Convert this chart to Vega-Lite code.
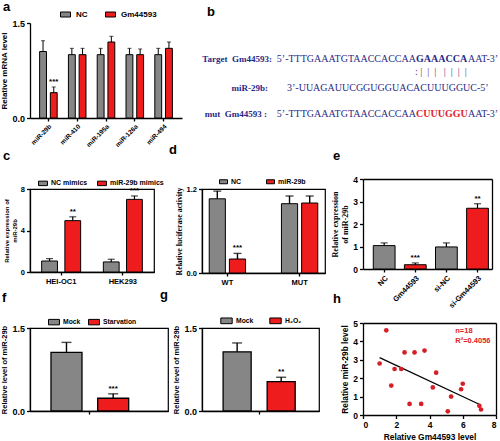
{
  "$schema": "https://vega.github.io/schema/vega-lite/v6.json",
  "padding": {"left": 0, "top": 1, "right": 0, "bottom": 0},
  "columns": 5,
  "align": "each",
  "bounds": "flush",
  "spacing": {"row": 0, "column": 0},
  "resolve": {"scale": {"color": "independent", "x": "independent", "y": "independent", "xOffset": "independent"}, "legend": {"color": "independent"}},
  "config": {
    "view": {"stroke": null},
    "font": "Liberation Sans",
    "axis": {"domainColor": "#000", "domainWidth": 1.3, "tickColor": "#000", "tickWidth": 1.3, "tickSize": 3.5, "labelColor": "#000", "titleColor": "#000", "labelFont": "Liberation Sans", "labelFontWeight": "bold", "titleFont": "Liberation Sans", "titleFontWeight": "bold", "grid": false, "labelPadding": 2, "titlePadding": 3, "labelFontSize": 8, "titleFontSize": 7.5},
    "legend": {"labelFont": "Liberation Sans", "labelFontWeight": "bold", "labelColor": "#000", "symbolStrokeColor": "#000", "symbolStrokeWidth": 1, "symbolType": "M-1,-0.5L1,-0.5L1,0.5L-1,0.5Z", "padding": 0, "labelLimit": 200},
    "title": {"font": "Liberation Sans", "fontWeight": "bold", "fontSize": 13, "anchor": "start", "frame": "group", "color": "#000", "offset": 0},
    "bar": {"stroke": "#000", "strokeWidth": 1},
    "text": {"color": "#000"}
  },
  "concat": [
    {
      "width": 152, "height": 95,
      "title": {"text": "a", "dx": -27, "dy": 9},
      "data": {"values": [
        {"gene": "miR-29b", "group": "NC", "value": 1.05, "hi": 1.22, "sig": ""},
        {"gene": "miR-29b", "group": "Gm44593", "value": 0.4, "hi": 0.49, "sig": "***"},
        {"gene": "miR-410", "group": "NC", "value": 1.0, "hi": 1.1, "sig": ""},
        {"gene": "miR-410", "group": "Gm44593", "value": 1.0, "hi": 1.1, "sig": ""},
        {"gene": "miR-195a", "group": "NC", "value": 1.0, "hi": 1.1, "sig": ""},
        {"gene": "miR-195a", "group": "Gm44593", "value": 1.2, "hi": 1.29, "sig": ""},
        {"gene": "miR-126a", "group": "NC", "value": 1.0, "hi": 1.1, "sig": ""},
        {"gene": "miR-126a", "group": "Gm44593", "value": 1.0, "hi": 1.09, "sig": ""},
        {"gene": "miR-494", "group": "NC", "value": 1.0, "hi": 1.1, "sig": ""},
        {"gene": "miR-494", "group": "Gm44593", "value": 1.1, "hi": 1.2, "sig": ""}
      ]},
      "encoding": {
        "x": {"field": "gene", "type": "nominal", "sort": null, "scale": {"paddingInner": 0.39, "paddingOuter": 0.334}, "axis": {"title": null, "labelAngle": -45, "labelFontSize": 6.5, "tickSize": 3}},
        "xOffset": {"field": "group", "type": "nominal", "sort": ["NC", "Gm44593"], "scale": {"paddingInner": 0.36}}
      },
      "layer": [
        {"mark": {"type": "bar"}, "encoding": {
          "y": {"field": "value", "type": "quantitative", "title": "Relative mRNA level", "scale": {"domain": [0, 1.5], "nice": false}, "axis": {"titleFontSize": 8, "labelFontSize": 9, "values": [0, 0.5, 1, 1.5], "format": ".1f"}},
          "color": {"field": "group", "type": "nominal", "sort": ["NC", "Gm44593"], "scale": {"domain": ["NC", "Gm44593"], "range": ["#868686", "#ee1c1c"]}, "legend": {"title": null, "orient": "none", "legendX": 30, "legendY": -14, "direction": "horizontal", "labelFontSize": 8, "labelOffset": 5, "columnPadding": 15, "symbolSize": 100}}
        }},
        {"mark": {"type": "rule", "color": "#000", "strokeWidth": 1}, "encoding": {"y": {"field": "value", "type": "quantitative", "title": "Relative mRNA level"}, "y2": {"field": "hi"}}},
        {"mark": {"type": "tick", "color": "#000", "thickness": 1, "size": 4}, "encoding": {"y": {"field": "hi", "type": "quantitative", "title": "Relative mRNA level"}}},
        {"mark": {"type": "text", "baseline": "bottom", "dy": -1, "fontWeight": "bold", "fontSize": 8}, "encoding": {"y": {"field": "hi", "type": "quantitative", "title": "Relative mRNA level"}, "text": {"field": "sig"}}}
      ]
    },
    {"width": 20, "height": 1, "mark": "point", "data": {"values": []}},
    {
      "width": 123, "height": 95,
      "title": {"text": "b", "dx": 5},
      "data": {"values": [
        {"line": "Target", "part": "label", "text": "Target\u00a0 Gm44593:", "pos": 72, "row": 36},
        {"line": "Target", "part": "head", "text": "5\u2019-TTTGAAATGTAACCACCAA", "pos": 216, "row": 36},
        {"line": "Target", "part": "motif", "text": "GAAACCA", "pos": 216, "row": 36},
        {"line": "Target", "part": "tail", "text": "AAT-3\u2019", "pos": 268, "row": 36},
        {"line": "pair", "part": "pair", "text": ":\u00a0|\u00a0\u00a0|\u00a0\u00a0|\u00a0\u00a0\u00a0|\u00a0\u00a0|\u00a0\u00a0|\u00a0\u00a0|", "pos": 215, "row": 48.5},
        {"line": "miR", "part": "label", "text": "miR-29b:", "pos": 68, "row": 65},
        {"line": "miR", "part": "seq", "text": "3\u2019-UUAGAUUCGGUGGUACACUUUGGUC-5\u2019", "pos": 87, "row": 65},
        {"line": "mut", "part": "label", "text": "mut\u00a0 Gm44593 :", "pos": 67, "row": 91},
        {"line": "mut", "part": "head", "text": "5\u2019-TTTGAAATGTAACCACCAA", "pos": 216, "row": 91},
        {"line": "mut", "part": "motif", "text": "CUUUGGU", "pos": 216, "row": 91},
        {"line": "mut", "part": "tail", "text": "AAT-3\u2019", "pos": 268, "row": 91}
      ]},
      "encoding": {
        "x": {"field": "pos", "type": "quantitative", "scale": {"domain": [2, 125], "nice": false, "zero": false}, "axis": null},
        "y": {"field": "row", "type": "quantitative", "scale": {"domain": [0, 95], "nice": false, "reverse": true}, "axis": null},
        "text": {"field": "text"}
      },
      "layer": [
        {"transform": [{"filter": "datum.part === 'label'"}], "mark": {"type": "text", "align": "right", "baseline": "middle", "font": "Liberation Serif", "fontWeight": "bold", "fontSize": 9, "color": "#2a2a86"}},
        {"transform": [{"filter": "datum.part === 'head'"}], "mark": {"type": "text", "align": "right", "baseline": "middle", "font": "Liberation Serif", "fontSize": 10, "color": "#2a2a86"}},
        {"transform": [{"filter": "datum.part === 'seq' || datum.part === 'tail'"}], "mark": {"type": "text", "align": "left", "baseline": "middle", "font": "Liberation Serif", "fontSize": 10, "color": "#2a2a86"}},
        {"transform": [{"filter": "datum.part === 'motif'"}], "mark": {"type": "text", "align": "left", "baseline": "middle", "font": "Liberation Serif", "fontWeight": "bold", "fontSize": 10}, "encoding": {"color": {"field": "line", "type": "nominal", "scale": {"domain": ["Target", "mut"], "range": ["#2a2a86", "#e3242b"]}, "legend": null}}},
        {"transform": [{"filter": "datum.part === 'pair'"}], "mark": {"type": "text", "align": "left", "baseline": "middle", "font": "Liberation Serif", "fontSize": 10, "color": "#56347a"}}
      ]
    },
    {"width": 38, "height": 1, "mark": "point", "data": {"values": []}},
    {"width": 1, "height": 1, "mark": "point", "data": {"values": []}},

    {"width": 1, "height": 71, "mark": "point", "data": {"values": []}},
    {"width": 1, "height": 1, "mark": "point", "data": {"values": []}},
    {"width": 1, "height": 1, "mark": "point", "data": {"values": []}},
    {"width": 1, "height": 1, "mark": "point", "data": {"values": []}},
    {"width": 1, "height": 1, "mark": "point", "data": {"values": []}},

    {
      "width": 124, "height": 83,
      "title": {"text": "c", "dx": -27, "dy": -11},
      "view": {"stroke": "#000", "strokeWidth": 1.2},
      "data": {"values": [
        {"cell": "HEI-OC1", "group": "NC mimics", "value": 1.06, "hi": 1.29, "sig": ""},
        {"cell": "HEI-OC1", "group": "miR-29b mimics", "value": 4.95, "hi": 5.32, "sig": "**"},
        {"cell": "HEK293", "group": "NC mimics", "value": 0.97, "hi": 1.23, "sig": ""},
        {"cell": "HEK293", "group": "miR-29b mimics", "value": 7.0, "hi": 7.33, "sig": "***"}
      ]},
      "encoding": {
        "x": {"field": "cell", "type": "nominal", "sort": null, "scale": {"paddingInner": 0.368, "paddingOuter": 0.189}, "axis": {"title": null, "labelAngle": 0, "labelFontSize": 7.5, "tickSize": 3}},
        "xOffset": {"field": "group", "type": "nominal", "sort": ["NC mimics", "miR-29b mimics"], "scale": {"paddingInner": 0.32}}
      },
      "layer": [
        {"mark": {"type": "bar"}, "encoding": {
          "y": {"field": "value", "type": "quantitative", "title": ["Relative expression of", "miR-29b"], "scale": {"domain": [0, 8], "nice": false}, "axis": {"titleFontSize": 6, "titleLineHeight": 8, "labelFontSize": 7.5, "values": [0, 2, 4, 6, 8], "format": "d"}},
          "color": {"field": "group", "type": "nominal", "sort": ["NC mimics", "miR-29b mimics"], "scale": {"domain": ["NC mimics", "miR-29b mimics"], "range": ["#868686", "#ee1c1c"]}, "legend": {"title": null, "orient": "none", "legendX": 8, "legendY": -11, "direction": "horizontal", "labelFontSize": 7, "labelOffset": 3, "columnPadding": 7, "symbolSize": 80}}
        }},
        {"mark": {"type": "rule", "color": "#000", "strokeWidth": 1.2}, "encoding": {"y": {"field": "value", "type": "quantitative", "title": ["Relative expression of", "miR-29b"]}, "y2": {"field": "hi"}}},
        {"mark": {"type": "tick", "color": "#000", "thickness": 1.2, "size": 7}, "encoding": {"y": {"field": "hi", "type": "quantitative", "title": ["Relative expression of", "miR-29b"]}}},
        {"mark": {"type": "text", "baseline": "bottom", "dy": -1, "fontWeight": "bold", "fontSize": 8}, "encoding": {"y": {"field": "hi", "type": "quantitative", "title": ["Relative expression of", "miR-29b"]}, "text": {"field": "sig"}}}
      ]
    },
    {"width": 1, "height": 1, "mark": "point", "data": {"values": []}},
    {
      "width": 123, "height": 84,
      "title": {"text": "d", "dx": -33, "dy": -16},
      "view": {"stroke": "#000", "strokeWidth": 1.2},
      "data": {"values": [
        {"site": "WT", "group": "NC", "value": 1.06, "hi": 1.17, "sig": ""},
        {"site": "WT", "group": "miR-29b", "value": 0.2, "hi": 0.28, "sig": "***"},
        {"site": "MUT", "group": "NC", "value": 0.99, "hi": 1.1, "sig": ""},
        {"site": "MUT", "group": "miR-29b", "value": 1.0, "hi": 1.1, "sig": ""}
      ]},
      "encoding": {
        "x": {"field": "site", "type": "nominal", "sort": null, "scale": {"paddingInner": 0.497, "paddingOuter": 0.1}, "axis": {"title": null, "labelAngle": 0, "labelFontSize": 7.5, "tickSize": 3}},
        "xOffset": {"field": "group", "type": "nominal", "sort": ["NC", "miR-29b"], "scale": {"paddingInner": 0.2}}
      },
      "layer": [
        {"mark": {"type": "bar"}, "encoding": {
          "y": {"field": "value", "type": "quantitative", "title": "Relative luciferase activity", "scale": {"domain": [0, 1.2], "nice": false}, "axis": {"titleFont": "Liberation Serif", "titleFontSize": 7.8, "labelFontSize": 7.5, "values": [0, 0.2, 0.4, 0.6, 0.8, 1.0, 1.2], "format": ".1f"}},
          "color": {"field": "group", "type": "nominal", "sort": ["NC", "miR-29b"], "scale": {"domain": ["NC", "miR-29b"], "range": ["#868686", "#ee1c1c"]}, "legend": {"title": null, "orient": "none", "legendX": 17, "legendY": -12, "direction": "horizontal", "labelFontSize": 7, "labelOffset": 3, "columnPadding": 22, "symbolSize": 64}}
        }},
        {"mark": {"type": "rule", "color": "#000", "strokeWidth": 1.4}, "encoding": {"y": {"field": "value", "type": "quantitative", "title": "Relative luciferase activity"}, "y2": {"field": "hi"}}},
        {"mark": {"type": "tick", "color": "#000", "thickness": 1.4, "size": 8}, "encoding": {"y": {"field": "hi", "type": "quantitative", "title": "Relative luciferase activity"}}},
        {"mark": {"type": "text", "baseline": "bottom", "dy": -1, "fontWeight": "bold", "fontSize": 8}, "encoding": {"y": {"field": "hi", "type": "quantitative", "title": "Relative luciferase activity"}, "text": {"field": "sig"}}}
      ]
    },
    {"width": 1, "height": 1, "mark": "point", "data": {"values": []}},
    {
      "width": 129, "height": 80,
      "title": {"text": "e", "dx": -30, "dy": -8},
      "resolve": {"axis": {"x": "independent", "y": "independent"}},
      "data": {"values": [
        {"sample": "NC", "value": 1.04, "hi": 1.16, "sig": ""},
        {"sample": "Gm44593", "value": 0.19, "hi": 0.27, "sig": "***"},
        {"sample": "si-NC", "value": 0.98, "hi": 1.16, "sig": ""},
        {"sample": "si-Gm44593", "value": 2.7, "hi": 2.9, "sig": "**"}
      ]},
      "layer": [
        {"mark": {"type": "bar"}, "encoding": {
          "x": {"field": "sample", "type": "nominal", "sort": null, "scale": {"paddingInner": 0.3, "paddingOuter": 0.2235, "align": 0.74}, "axis": {"title": null, "labelAngle": -45, "labelFontSize": 7.5, "tickSize": 3}},
          "y": {"field": "value", "type": "quantitative", "title": ["Relative expression", "of miR-29b"], "scale": {"domain": [0, 4], "nice": false, "range": [80, -10]}, "axis": {"titleFont": "Liberation Serif", "titleFontSize": 8, "titleLineHeight": 10, "labelFontSize": 8.5, "values": [0, 1, 2, 3, 4], "format": "d"}},
          "color": {"field": "sample", "type": "nominal", "scale": {"domain": ["NC", "Gm44593", "si-NC", "si-Gm44593"], "range": ["#868686", "#ee1c1c", "#868686", "#ee1c1c"]}, "legend": null}
        }},
        {"mark": {"type": "rule", "color": "#000", "strokeWidth": 1.2}, "encoding": {
          "x": {"field": "sample", "type": "nominal", "sort": null, "axis": {"orient": "top", "offset": 10, "labels": false, "ticks": false, "title": null}},
          "y": {"field": "value", "type": "quantitative", "axis": {"orient": "right", "labels": false, "ticks": false, "title": null}},
          "y2": {"field": "hi"}}},
        {"mark": {"type": "tick", "color": "#000", "thickness": 1.2, "size": 7}, "encoding": {
          "x": {"field": "sample", "type": "nominal", "sort": null, "axis": null},
          "y": {"field": "hi", "type": "quantitative", "axis": null}}},
        {"mark": {"type": "text", "baseline": "bottom", "dy": -1, "fontWeight": "bold", "fontSize": 8}, "encoding": {
          "x": {"field": "sample", "type": "nominal", "sort": null, "axis": null},
          "y": {"field": "hi", "type": "quantitative", "axis": null}, "text": {"field": "sig"}}}
      ]
    },

    {"width": 1, "height": 55, "mark": "point", "data": {"values": []}},
    {"width": 1, "height": 1, "mark": "point", "data": {"values": []}},
    {"width": 1, "height": 1, "mark": "point", "data": {"values": []}},
    {"width": 1, "height": 1, "mark": "point", "data": {"values": []}},
    {"width": 1, "height": 1, "mark": "point", "data": {"values": []}},

    {
      "width": 138, "height": 83,
      "title": {"text": "f", "dx": -28, "dy": -7},
      "view": {"stroke": "#000", "strokeWidth": 1.2},
      "data": {"values": [
        {"cond": "f", "group": "Mock", "value": 1.06, "hi": 1.24, "sig": ""},
        {"cond": "f", "group": "Starvation", "value": 0.23, "hi": 0.31, "sig": "***"}
      ]},
      "encoding": {
        "x": {"field": "cond", "type": "nominal", "scale": {"paddingInner": 0, "paddingOuter": 0.388, "align": 0.348}, "axis": {"title": null, "labels": false, "tickSize": 3}},
        "xOffset": {"field": "group", "type": "nominal", "sort": ["Mock", "Starvation"], "scale": {"paddingInner": 0.336}}
      },
      "layer": [
        {"mark": {"type": "bar", "strokeWidth": 1.3}, "encoding": {
          "y": {"field": "value", "type": "quantitative", "title": "Relative level of miR-29b", "scale": {"domain": [0, 1.5], "nice": false}, "axis": {"titleFontSize": 7.5, "labelFontSize": 9, "values": [0, 0.5, 1, 1.5], "format": ".1f"}},
          "color": {"field": "group", "type": "nominal", "sort": ["Mock", "Starvation"], "scale": {"domain": ["Mock", "Starvation"], "range": ["#868686", "#ee1c1c"]}, "legend": {"title": null, "orient": "none", "legendX": 18, "legendY": -12, "direction": "horizontal", "labelFontSize": 6.8, "labelOffset": 3, "columnPadding": 5, "symbolSize": 120}}
        }},
        {"mark": {"type": "rule", "color": "#000", "strokeWidth": 1.4}, "encoding": {"y": {"field": "value", "type": "quantitative", "title": "Relative level of miR-29b"}, "y2": {"field": "hi"}}},
        {"mark": {"type": "tick", "color": "#000", "thickness": 1.4, "size": 10}, "encoding": {"y": {"field": "hi", "type": "quantitative", "title": "Relative level of miR-29b"}}},
        {"mark": {"type": "text", "baseline": "bottom", "dy": -1, "fontWeight": "bold", "fontSize": 8}, "encoding": {"y": {"field": "hi", "type": "quantitative", "title": "Relative level of miR-29b"}, "text": {"field": "sig"}}}
      ]
    },
    {"width": 1, "height": 1, "mark": "point", "data": {"values": []}},
    {
      "width": 117, "height": 83,
      "title": {"text": "g", "dx": -42, "dy": -8},
      "view": {"stroke": "#000", "strokeWidth": 1.2},
      "data": {"values": [
        {"cond": "g", "group": "Mock", "value": 1.07, "hi": 1.23, "sig": ""},
        {"cond": "g", "group": "H\u2082O\u2082", "value": 0.53, "hi": 0.61, "sig": "**"}
      ]},
      "encoding": {
        "x": {"field": "cond", "type": "nominal", "scale": {"paddingInner": 0, "paddingOuter": 0.3115, "align": 0.47}, "axis": {"title": null, "labels": false, "tickSize": 3}},
        "xOffset": {"field": "group", "type": "nominal", "sort": ["Mock", "H\u2082O\u2082"], "scale": {"paddingInner": 0.363}}
      },
      "layer": [
        {"mark": {"type": "bar", "strokeWidth": 1.3}, "encoding": {
          "y": {"field": "value", "type": "quantitative", "title": "Relative level of miR-29b", "scale": {"domain": [0, 1.5], "nice": false}, "axis": {"titleFontSize": 7.5, "labelFontSize": 9, "values": [0, 0.5, 1, 1.5], "format": ".1f"}},
          "color": {"field": "group", "type": "nominal", "sort": ["Mock", "H\u2082O\u2082"], "scale": {"domain": ["Mock", "H\u2082O\u2082"], "range": ["#868686", "#ee1c1c"]}, "legend": {"title": null, "orient": "none", "legendX": 18, "legendY": -14, "direction": "horizontal", "labelFontSize": 6.8, "labelOffset": 3, "columnPadding": 13, "symbolSize": 130}}
        }},
        {"mark": {"type": "rule", "color": "#000", "strokeWidth": 1.4}, "encoding": {"y": {"field": "value", "type": "quantitative", "title": "Relative level of miR-29b"}, "y2": {"field": "hi"}}},
        {"mark": {"type": "tick", "color": "#000", "thickness": 1.4, "size": 10}, "encoding": {"y": {"field": "hi", "type": "quantitative", "title": "Relative level of miR-29b"}}},
        {"mark": {"type": "text", "baseline": "bottom", "dy": -1, "fontWeight": "bold", "fontSize": 8}, "encoding": {"y": {"field": "hi", "type": "quantitative", "title": "Relative level of miR-29b"}, "text": {"field": "sig"}}}
      ]
    },
    {"width": 1, "height": 1, "mark": "point", "data": {"values": []}},
    {
      "width": 133, "height": 87,
      "title": {"text": "h", "dx": -30, "dy": -9},
      "resolve": {"axis": {"x": "independent", "y": "independent"}},
      "data": {"values": [
        {"kind": "pt", "gx": 1.0, "my": 2.8},
        {"kind": "pt", "gx": 1.4, "my": 4.6},
        {"kind": "pt", "gx": 1.7, "my": 1.6},
        {"kind": "pt", "gx": 1.9, "my": 2.5},
        {"kind": "pt", "gx": 2.3, "my": 2.5},
        {"kind": "pt", "gx": 2.5, "my": 3.4},
        {"kind": "pt", "gx": 2.8, "my": 0.6},
        {"kind": "pt", "gx": 3.1, "my": 3.4},
        {"kind": "pt", "gx": 3.5, "my": 0.6},
        {"kind": "pt", "gx": 3.7, "my": 3.5},
        {"kind": "pt", "gx": 4.4, "my": 2.3},
        {"kind": "pt", "gx": 4.2, "my": 1.5},
        {"kind": "pt", "gx": 5.1, "my": 0.2},
        {"kind": "pt", "gx": 5.3, "my": 1.0},
        {"kind": "pt", "gx": 5.9, "my": 1.4},
        {"kind": "pt", "gx": 6.0, "my": 1.7},
        {"kind": "pt", "gx": 7.0, "my": 0.5},
        {"kind": "pt", "gx": 7.1, "my": 0.3},
        {"kind": "fit", "gx": 1.0, "my": 3.12},
        {"kind": "fit", "gx": 7.05, "my": 0.56},
        {"kind": "note", "gx": 5.55, "my": 4.55, "label": "n=18"},
        {"kind": "note", "gx": 5.55, "my": 4.0, "label": "R\u00b2=0.4056"}
      ]},
      "layer": [
        {"transform": [{"filter": "datum.kind === 'fit'"}], "mark": {"type": "line", "color": "#000", "strokeWidth": 1.2}, "encoding": {
          "x": {"field": "gx", "type": "quantitative", "title": "Relative Gm44593 level", "scale": {"domain": [0, 8], "nice": false}, "axis": {"values": [0, 2, 4, 6, 8], "titleFontSize": 8.4, "labelFontSize": 8.5}},
          "y": {"field": "my", "type": "quantitative", "title": "Relative miR-29b level", "scale": {"domain": [0, 5], "nice": false, "range": [87, -5]}, "axis": {"values": [0, 1, 2, 3, 4, 5], "titleFontSize": 8.4, "labelFontSize": 8.5}}
        }},
        {"transform": [{"filter": "datum.kind === 'pt'"}], "mark": {"type": "circle", "size": 22, "color": "#d41f26", "opacity": 1}, "encoding": {
          "x": {"field": "gx", "type": "quantitative", "axis": {"orient": "top", "offset": 5, "labels": false, "ticks": false, "title": null}},
          "y": {"field": "my", "type": "quantitative", "axis": {"orient": "right", "labels": false, "ticks": false, "title": null}}
        }},
        {"transform": [{"filter": "datum.kind === 'note'"}], "mark": {"type": "text", "align": "left", "baseline": "middle", "fontWeight": "bold", "fontSize": 7.5, "color": "#e0201f"}, "encoding": {
          "x": {"field": "gx", "type": "quantitative", "axis": null},
          "y": {"field": "my", "type": "quantitative", "axis": null},
          "text": {"field": "label"}
        }}
      ]
    }
  ]
}
